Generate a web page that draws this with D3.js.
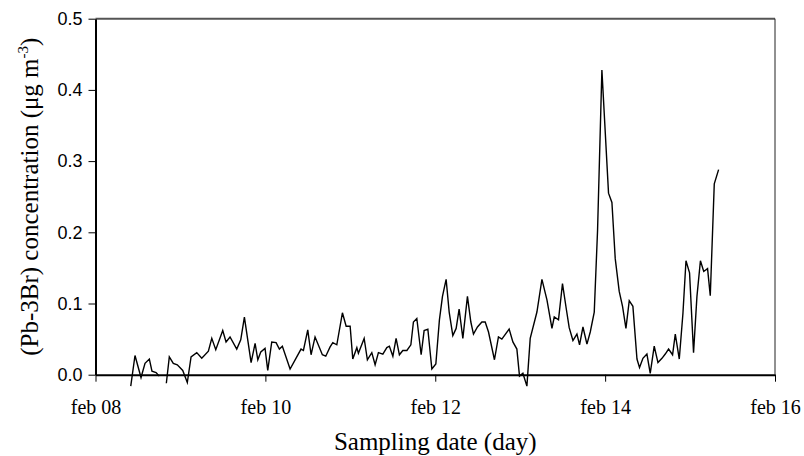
<!DOCTYPE html>
<html>
<head>
<meta charset="utf-8">
<script src="https://cdn.jsdelivr.net/npm/d3@7"></script>
<style>
  body { margin: 0; background: #fff; }
</style>
</head>
<body>
<div id="chart"></div>
<script>
// sampling time, decimal day of February
const sampleDay = [
  8.415, 8.465, 8.536, 8.583, 8.634, 8.665, 8.713, 8.751, 8.79,
  8.834, 8.869, 8.916, 8.963, 9.027, 9.081, 9.125, 9.192, 9.251, 9.329,
  9.369, 9.416, 9.498, 9.537, 9.584, 9.663, 9.710, 9.753, 9.832, 9.879,
  9.911, 9.946, 9.996, 10.028, 10.075, 10.126, 10.165, 10.200, 10.291,
  10.420, 10.448, 10.499, 10.538, 10.585, 10.671, 10.711, 10.762, 10.794,
  10.841, 10.907, 10.951, 10.998, 11.029, 11.077, 11.095, 11.163, 11.201,
  11.253, 11.292, 11.331, 11.383, 11.430, 11.460, 11.501, 11.539, 11.578,
  11.618, 11.666, 11.713, 11.743, 11.783, 11.834, 11.869, 11.913, 11.960,
  12.007, 12.049, 12.085, 12.128, 12.164, 12.207, 12.246, 12.281, 12.325,
  12.379, 12.419, 12.450, 12.497, 12.549, 12.588, 12.627, 12.697, 12.744,
  12.784, 12.870, 12.914, 12.961, 12.992, 13.032, 13.079, 13.118, 13.197,
  13.256, 13.315, 13.374, 13.401, 13.451, 13.498, 13.542, 13.577, 13.621,
  13.668, 13.699, 13.739, 13.786, 13.825, 13.872, 13.911, 13.962, 14.040,
  14.080, 14.119, 14.166, 14.205, 14.245, 14.284, 14.327, 14.375, 14.405,
  14.445, 14.492, 14.531, 14.578, 14.622, 14.669, 14.708, 14.747, 14.794,
  14.826, 14.873, 14.916, 14.952, 14.994, 15.041, 15.081, 15.122, 15.161,
  15.206, 15.238, 15.285, 15.336
];
// (Pb-3Br) concentration, ug m-3 (null = no sample)
const concentration = [
  -0.016, 0.027, -0.004, 0.016, 0.022, 0.005, 0.003, -0.002, null,
  -0.012, 0.025, 0.016, 0.014, 0.006, -0.011, 0.025, 0.031, 0.023, 0.033,
  0.051, 0.035, 0.062, 0.046, 0.053, 0.036, 0.049, 0.081, 0.017, 0.044,
  0.021, 0.032, 0.037, 0.006, 0.046, 0.045, 0.036, 0.040, 0.008,
  0.036, 0.034, 0.063, 0.028, 0.053, 0.028, 0.026, 0.039, 0.045,
  0.042, 0.087, 0.068, 0.068, 0.022, 0.038, 0.030, 0.051, 0.021,
  0.031, 0.014, 0.031, 0.029, 0.038, 0.040, 0.026, 0.051, 0.028,
  0.034, 0.034, 0.042, 0.074, 0.079, 0.028, 0.062, 0.064, 0.008,
  0.015, 0.077, 0.110, 0.134, 0.088, 0.055, 0.065, 0.092, 0.051,
  0.110, 0.074, 0.057, 0.067, 0.074, 0.074, 0.060, 0.021, 0.053,
  0.050, 0.064, 0.046, 0.036, -0.002, 0.002, -0.016, 0.051, 0.088,
  0.134, 0.105, 0.065, 0.081, 0.077, 0.128, 0.093, 0.066, 0.048,
  0.057, 0.042, 0.067, 0.043, 0.060, 0.088, 0.203, 0.428, 0.255,
  0.242, 0.163, 0.117, 0.096, 0.065, 0.104, 0.096, 0.022, 0.010,
  0.023, 0.029, 0.002, 0.040, 0.017, 0.023, 0.029, 0.036, 0.028,
  0.057, 0.022, 0.086, 0.160, 0.143, 0.031, 0.110, 0.160, 0.145,
  0.149, 0.111, 0.268, 0.288
];
const xTickValues = [8, 10, 12, 14, 16];
const xTickLabels = ["feb 08", "feb 10", "feb 12", "feb 14", "feb 16"];
const yTickValues = [0, 0.1, 0.2, 0.3, 0.4, 0.5];
const yTickLabels = ["0.0", "0.1", "0.2", "0.3", "0.4", "0.5"];

const margin = { top: 18.7, right: 29, bottom: 81.3, left: 95.5 };
const width = 804 - margin.left - margin.right;
const height = 456 - margin.top - margin.bottom;

const svg = d3
  .select("#chart")
  .append("svg")
  .attr("width", 804)
  .attr("height", 456);

const xScale = d3.scaleLinear().domain([8, 16]).range([0, width]);
const yScale = d3.scaleLinear().domain([0, 0.5]).range([height, 0]);

const chart = svg
  .append("g")
  .attr("transform", `translate(${margin.left}, ${margin.top})`);

// frame: grey top, thin right
chart
  .append("line")
  .attr("x1", xScale(8)).attr("x2", xScale(16))
  .attr("y1", yScale(0.5)).attr("y2", yScale(0.5))
  .attr("stroke", "#555").attr("stroke-width", 2);
chart
  .append("line")
  .attr("x1", xScale(16)).attr("x2", xScale(16))
  .attr("y1", yScale(0.5)).attr("y2", yScale(0))
  .attr("stroke", "#222").attr("stroke-width", 1);

const points = sampleDay.map((d, i) => [d, concentration[i]]);
const line = d3
  .line()
  .defined(([t, v]) => v !== null)
  .x(([t, v]) => xScale(t))
  .y(([t, v]) => yScale(v));

chart
  .append("path")
  .attr("d", line(points))
  .style("fill", "none")
  .style("stroke", "#000")
  .style("stroke-width", 1.4)
  .style("stroke-linejoin", "miter");

const xAxis = chart
  .append("g")
  .attr("transform", `translate(0, ${height})`)
  .call(
    d3.axisBottom(xScale)
      .tickValues(xTickValues)
      .tickFormat((d, i) => xTickLabels[i])
      .tickSize(7)
      .tickSizeOuter(0)
      .tickPadding(18)
  );
xAxis.select(".domain").attr("stroke", "#000").attr("stroke-width", 2);
xAxis.selectAll(".tick line").attr("stroke", "#000").attr("stroke-width", 1);
xAxis
  .selectAll(".tick text")
  .attr("font-family", "'Liberation Serif', 'Times New Roman', serif")
  .attr("font-size", 20)
  .attr("fill", "#000");

const yAxis = chart
  .append("g")
  .call(
    d3.axisLeft(yScale)
      .tickValues(yTickValues)
      .tickFormat((d, i) => yTickLabels[i])
      .tickSize(7)
      .tickSizeOuter(0)
      .tickPadding(6)
  );
yAxis.select(".domain").attr("stroke", "#000").attr("stroke-width", 2);
yAxis.selectAll(".tick line").attr("stroke", "#000").attr("stroke-width", 1);
yAxis
  .selectAll(".tick text")
  .attr("font-family", "'Liberation Sans', Arial, sans-serif")
  .attr("font-size", 18)
  .attr("fill", "#000");

svg
  .append("text")
  .attr("font-family", "'Liberation Serif', 'Times New Roman', serif")
  .attr("font-size", 25)
  .attr("text-anchor", "middle")
  .attr("x", margin.left + width / 2)
  .attr("y", 450)
  .text("Sampling date (day)");

const yTitle = svg
  .append("text")
  .attr("font-family", "'Liberation Serif', 'Times New Roman', serif")
  .attr("font-size", 25)
  .attr("text-anchor", "middle")
  .attr("transform", "rotate(-90)")
  .attr("x", -(margin.top + height / 2))
  .attr("y", 38);
yTitle.append("tspan").text("(Pb-3Br) concentration (μg m");
yTitle.append("tspan").attr("font-size", 15).attr("dy", -10).text("-3");
yTitle.append("tspan").attr("dy", 10).text(")");
</script>
</body>
</html>
